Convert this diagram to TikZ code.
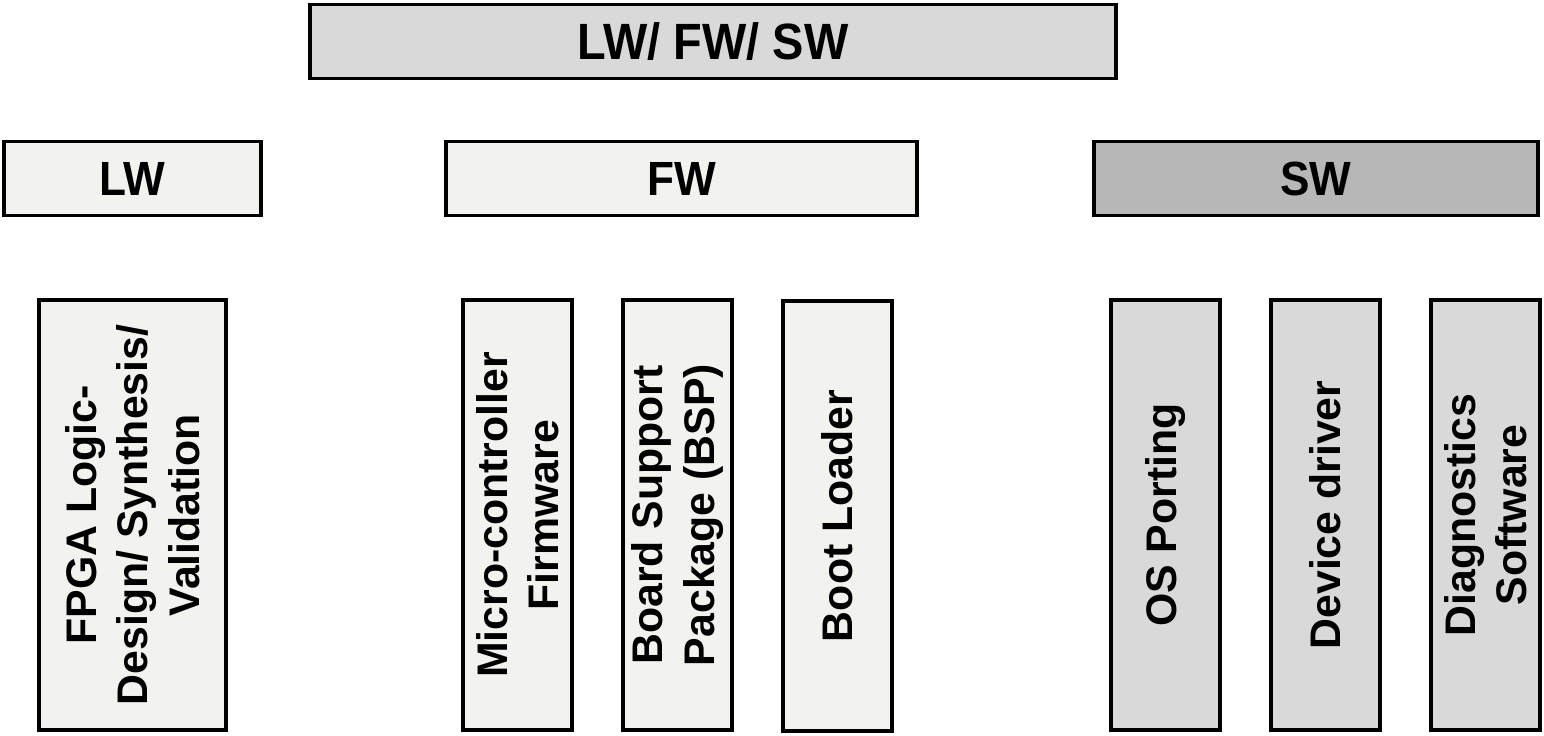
\documentclass[tikz,border=0pt]{standalone}
\usepackage{fontspec}
\setmainfont{Liberation Sans}
\newfontfamily\headfont[FakeStretch=0.92]{Liberation Sans}
\usetikzlibrary{positioning}
\definecolor{topgray}{HTML}{D9D9D9}
\definecolor{paleface}{HTML}{F2F2EF}
\definecolor{midgray}{HTML}{B7B7B7}

\begin{document}
\begin{tikzpicture}[x=0.5pt,y=0.5pt,
		box/.style={draw=black,line width=1.75pt,inner sep=0pt,outer sep=0pt,align=center},
		headbox/.style={box,minimum height=37pt,font=\headfont\fontsize{24}{28}\selectfont\bfseries},
		vbox/.style={box,rotate=90,minimum width=215pt,minimum height=54.5pt,
			font=\fontsize{21.4}{25.8}\selectfont\bfseries}]
		\useasboundingbox (0,0) rectangle (1544,-735);
		%top
		\node[headbox,fill=topgray,minimum width=403pt,font=\headfont\fontsize{25.5}{28}\selectfont\bfseries] (all) at (713,-41.5) {LW/ FW/ SW};
		%layer 2
		\node[headbox,fill=paleface,minimum width=128.5pt] (lw) at (132.5,-178.5) {LW};
		\node[headbox,fill=paleface,minimum width=235.5pt] (fw) at (681.5,-178.5) {FW};
		\node[headbox,fill=midgray,minimum width=222pt] (sw) at (1316,-178.5) {SW};
		%layer 3, LW
		\node[vbox,fill=paleface,minimum height=93.5pt] (fpga) at (132.5,-515) {FPGA Logic-\\Design/ Synthesis/\\Validation};
		%layer 3, FW
		\node[vbox,fill=paleface] (mcu) at (517.5,-515) {Micro-controller\\Firmware};
		\node[vbox,fill=paleface] (bsp) at (677.5,-515) {Board Support\\Package (BSP)};
		\node[vbox,fill=paleface] (boot) at (837.5,-516) {Boot Loader};
		%layer 3, SW
		\node[vbox,fill=topgray] (os) at (1165.5,-515) {OS Porting};
		\node[vbox,fill=topgray] (drv) at (1325.5,-515) {Device driver};
		\node[vbox,fill=topgray] (diag) at (1485.5,-515) {Diagnostics\\Software};
	\end{tikzpicture}
\end{document}
